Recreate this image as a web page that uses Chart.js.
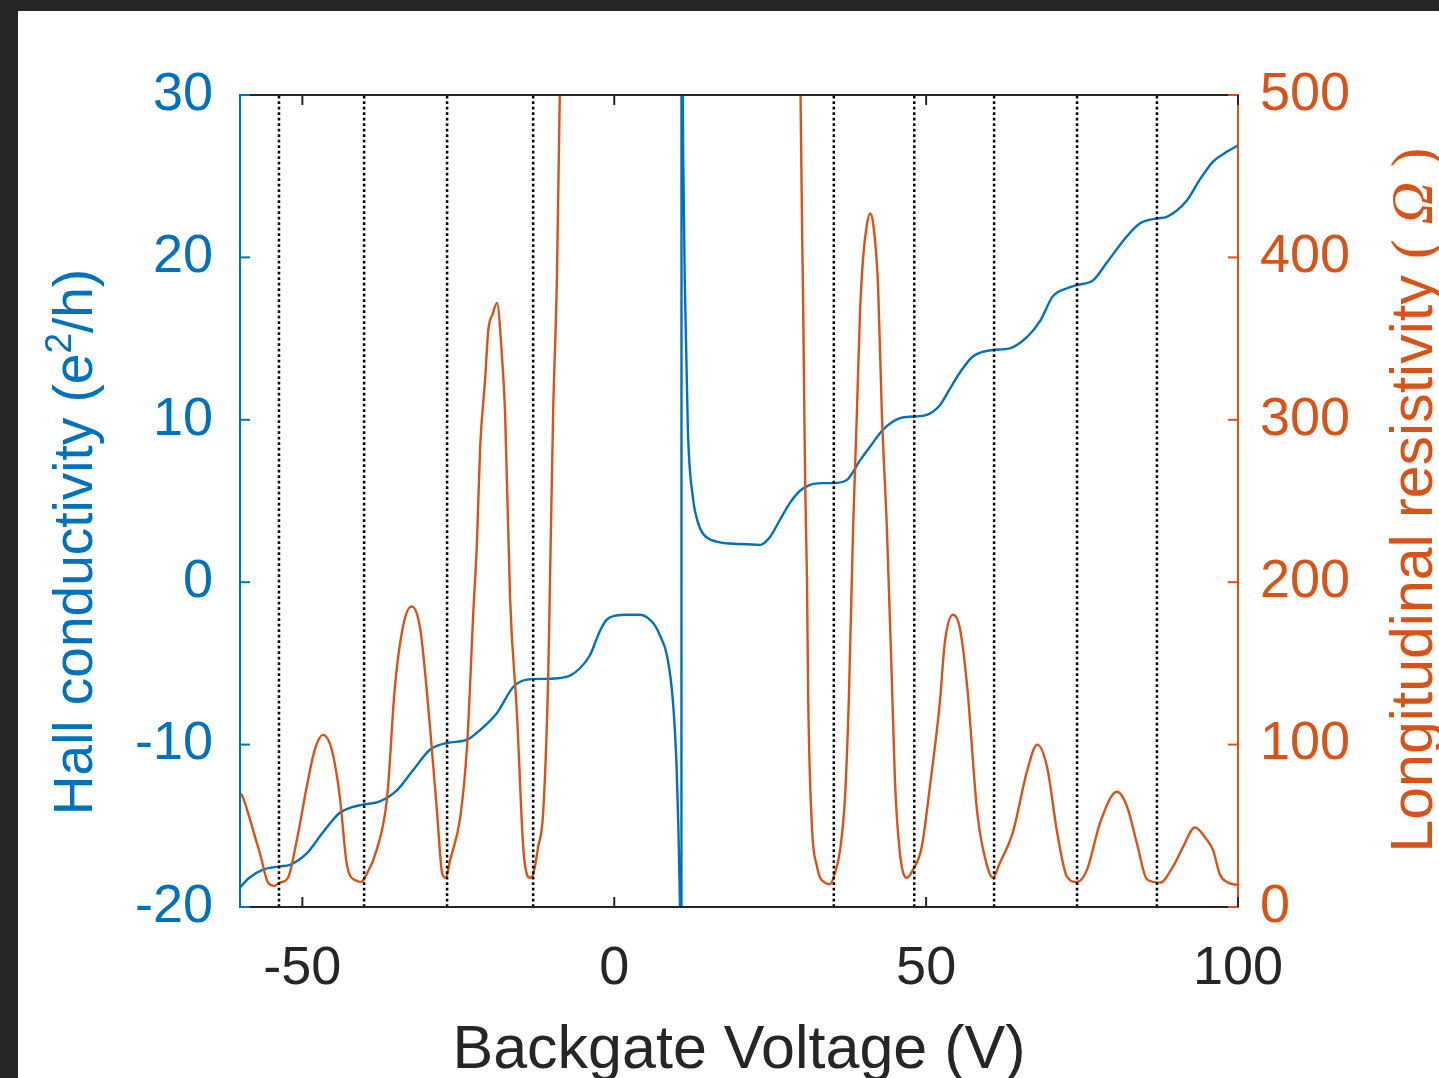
<!DOCTYPE html>
<html>
<head>
<meta charset="utf-8">
<script src="https://cdn.jsdelivr.net/npm/chart.js@4"></script>
<style>
  html, body { margin: 0; padding: 0; background: #262626; overflow: hidden; }
  #wrap { position: absolute; left: 18px; top: 11px; width: 1421px; height: 1067px; background: #fff; }
</style>
</head>
<body>
<div id="wrap"><canvas id="chart" width="1421" height="1067"></canvas></div>
<script>
// x tick labels and y tick values
const xTickVals = [-50, 0, 50, 100];
const hallTickVals = [-20, -10, 0, 10, 20, 30];
const rhoTickVals = [0, 100, 200, 300, 400, 500];

// backgate voltages of the dotted guide lines (V)
const guideVolts = [-53.75, -40.1, -26.8, -13.0, 35.2, 48.1, 60.9, 74.2, 87.0];

// Hall conductivity (e^2/h) vs backgate voltage (V)
const hallV = [-60, -58.5, -56.3, -53.6, -52, -49.3, -46.7, -44, -42, -40.3, -37.6, -34.8, -32.3, -29.5,
  -26.8, -23.6, -21.5, -18.8, -16.2, -14, -11, -8.7, -7.1, -5.5, -3.9, -2.3, -1.2, 0.3, 2, 4.1, 6.2, 7.3,
  8.5, 9.4, 10.0, 10.3, 10.55, 10.65, 10.75, 10.8, 11.0, 11.1, 11.3, 11.8, 12.6, 13.4, 14.2, 16.4, 20.2,
  23.4, 25, 26.5, 28.2, 29.7, 31.4, 33.3, 35.1, 37.3, 39.4, 41.3, 43.1, 45.8, 47.9, 50.1, 52.2, 53.8,
  55.4, 57.5, 60.7, 63.4, 66.2, 68.3, 70.3, 72.6, 74.2, 76.8, 79, 82.2, 84.3, 87, 88.6, 91.8, 93.9, 96,
  98.2, 100];
const hallS = [-18.8, -18.2, -17.7, -17.5, -17.4, -16.7, -15.4, -14.2, -13.85, -13.7, -13.5, -12.8, -11.6, -10.3,
  -9.9, -9.7, -9.1, -8.05, -6.45, -6.0, -5.95, -5.9, -5.75, -5.3, -4.5, -3.0, -2.3, -2.05, -2.0, -2.0, -2.5, -3.25,
  -4.6, -7.3, -11.4, -15.4, -20.0, -25, -100, 100, 30.5, 25, 18.6, 9.4, 5.25, 3.7, 3.0, 2.5, 2.35,
  2.3, 2.8, 3.8, 4.9, 5.6, 6.0, 6.1, 6.1, 6.3, 7.5, 8.5, 9.4, 10.1, 10.2, 10.3, 10.9, 11.9,
  12.9, 13.9, 14.3, 14.4, 15.1, 16.1, 17.6, 18.1, 18.3, 18.6, 19.7, 21.3, 22.1, 22.4, 22.5, 23.5, 24.8, 25.9,
  26.5, 26.9];

// longitudinal resistivity (Ohm) vs backgate voltage (V)
const rhoV = [-60, -59.7, -58.4, -57.5, -56.8, -55.5, -54.5, -53.6, -52.3, -50.9, -49.3, -48, -46.7, -45.3,
  -44, -42.9, -41.6, -40.5, -40, -38.1, -36.4, -35.2, -33.9, -32.5, -31.1, -29.5, -28.4, -27.6, -27.0,
  -26.3, -24.7, -23.6, -22.6, -22, -21.5, -20.7, -20.2, -19.5, -18.8, -18, -17.5, -16.7, -15.6, -14.6,
  -14, -13.5, -13, -12.2, -11.4, -10.6, -10.3, -9.8, -9.2, -8.5, -7, 0, 10, 20, 28, 29.5, 29.8, 30.3,
  30.6, 30.9, 31.1, 31.7, 32.5, 33, 33.8, 34.6, 35.3, 36.2, 37, 37.6, 38.3, 38.9, 39.4, 39.9, 40.5, 41,
  41.5, 42.3, 42.9, 43.7, 44.5, 45, 45.8, 46.9, 47.9, 49.3, 50.6, 52.2, 53, 54.3, 55.4, 56.6, 58.2, 59.8,
  60.7, 61.8, 63.9, 66.2, 67.8, 69.4, 71, 72.6, 74.2, 75.8, 77.9, 80.6, 82.2, 83.8, 85.4, 87.5, 89.6,
  91.2, 93.1, 94.7, 96, 97.1, 98.4, 100];
const rhoR = [70, 69, 54, 42, 33, 15, 13, 15, 18, 41, 74, 97, 106, 97,
  68, 27, 16.6, 15.5, 18, 35, 68, 134, 172, 185, 171, 109, 58, 21, 18,
  29, 55, 99, 181, 226, 283, 325, 355, 365, 372, 339, 304, 190, 119, 37,
  20, 18, 20, 37, 58, 140, 201, 304, 386, 560, 900, 3000, 3000, 2000, 1200, 700, 520, 366,
  263, 201, 127, 49, 25, 18, 15, 14, 20, 35, 68, 127, 234, 304, 366, 400, 420, 427,
  421, 382, 304, 234, 140, 78, 33, 18, 23, 37, 74, 126, 163, 180, 172, 135, 58, 25,
  18, 27, 46, 84, 100, 86, 46, 18.5, 15.4, 23, 52, 71, 62, 39, 17, 15, 25,
  37, 49, 43, 35, 20, 15, 13.5];

const BLUE = '#0072BD';
const ORANGE = '#D95319';
const DARK = '#262626';
const SANS = '"Liberation Sans", Arial, Helvetica, sans-serif';
const SERIF = '"Liberation Serif", "Times New Roman", serif';

const axesFrame = {
  id: 'axesFrame',
  afterDatasetsDraw(chart) {
    const { ctx, chartArea: a, scales } = chart;
    const seg = (x1, y1, x2, y2) => { ctx.beginPath(); ctx.moveTo(x1, y1); ctx.lineTo(x2, y2); ctx.stroke(); };
    ctx.save();
    ctx.lineWidth = 2;
    ctx.strokeStyle = DARK;
    seg(a.left, a.top, a.right, a.top);
    seg(a.left, a.bottom, a.right, a.bottom);
    ctx.strokeStyle = BLUE;
    seg(a.left, a.top - 1, a.left, a.bottom + 1);
    hallTickVals.forEach(v => { const p = scales.y.getPixelForValue(v); seg(a.left, p, a.left + 10, p); });
    ctx.strokeStyle = ORANGE;
    seg(a.right, a.top - 1, a.right, a.bottom + 1);
    rhoTickVals.forEach(v => { const p = scales.y1.getPixelForValue(v); seg(a.right, p, a.right - 10, p); });
    ctx.strokeStyle = DARK;
    xTickVals.forEach(v => {
      const p = scales.x.getPixelForValue(v);
      seg(p, a.top, p, a.top + 10);
      seg(p, a.bottom, p, a.bottom - 10);
    });
    ctx.restore();
  },
  afterDraw(chart) {
    const { ctx, chartArea: a } = chart;
    ctx.save();
    ctx.textBaseline = 'alphabetic';
    ctx.textAlign = 'left';
    // x title
    ctx.font = '61px ' + SANS;
    ctx.fillStyle = DARK;
    const xt = 'Backgate Voltage (V)';
    ctx.fillText(xt, (a.left + a.right) / 2 - ctx.measureText(xt).width / 2, 1057);
    // rotated y titles
    const rotated = (x, y, parts) => {
      ctx.save();
      ctx.translate(x, y);
      ctx.rotate(-Math.PI / 2);
      let total = 0;
      parts.forEach(p => { ctx.font = p.font; p.w = ctx.measureText(p.text).width; total += p.w; });
      let cx = -total / 2;
      parts.forEach(p => {
        ctx.font = p.font; ctx.fillStyle = p.color;
        ctx.fillText(p.text, cx, p.dy || 0);
        cx += p.w;
      });
      ctx.restore();
    };
    rotated(74, 531, [
      { text: 'Hall conductivity (e', font: '55px ' + SANS, color: BLUE },
      { text: '2', font: '37px ' + SANS, color: BLUE, dy: -21 },
      { text: '/h)', font: '55px ' + SANS, color: BLUE }
    ]);
    rotated(1414, 489, [
      { text: 'Longitudinal resistivity ', font: '59px ' + SANS, color: ORANGE },
      { text: '(', font: '59px ' + SERIF, color: ORANGE },
      { text: ' Ω ', font: 'italic 59px ' + SERIF, color: ORANGE },
      { text: ')', font: '59px ' + SERIF, color: ORANGE }
    ]);
    ctx.restore();
  }
};

const tickFont = { family: SANS, size: 54 };

const guideSets = guideVolts.map(v => ({
  data: [{ x: v, y: -20 }, { x: v, y: 30 }],
  yAxisID: 'y',
  borderColor: '#000',
  borderWidth: 2.5,
  borderDash: [2.7, 2.8],
  pointRadius: 0
}));

new Chart(document.getElementById('chart'), {
  type: 'line',
  data: {
    datasets: [
      ...guideSets,
      {
        label: 'Longitudinal resistivity',
        data: rhoV.map((v, i) => ({ x: v, y: rhoR[i] })),
        yAxisID: 'y1',
        borderColor: ORANGE,
        borderWidth: 2.4,
        pointRadius: 0,
        cubicInterpolationMode: 'monotone'
      },
      {
        label: 'Hall conductivity',
        data: hallV.map((v, i) => ({ x: v, y: hallS[i] })),
        yAxisID: 'y',
        borderColor: BLUE,
        borderWidth: 2.4,
        pointRadius: 0,
        cubicInterpolationMode: 'monotone'
      }
    ]
  },
  options: {
    responsive: false,
    animation: false,
    devicePixelRatio: 1,
    layout: { padding: { top: 84, left: 0, right: 0, bottom: 0 } },
    plugins: { legend: { display: false }, tooltip: { enabled: false } },
    scales: {
      x: {
        type: 'linear', min: -60, max: 100,
        afterBuildTicks: s => { s.ticks = xTickVals.map(v => ({ value: v })); },
        afterFit: s => { s.height = 171; },
        grid: { display: false, drawTicks: false },
        border: { display: false },
        ticks: { color: DARK, font: tickFont, padding: 30, maxRotation: 0, autoSkip: false, callback: v => String(v) }
      },
      y: {
        type: 'linear', position: 'left', min: -20, max: 30,
        afterBuildTicks: s => { s.ticks = hallTickVals.map(v => ({ value: v })); },
        afterFit: s => { s.width = 222; },
        grid: { display: false, drawTicks: false },
        border: { display: false },
        ticks: { color: BLUE, font: tickFont, padding: 27, callback: v => String(v) }
      },
      y1: {
        type: 'linear', position: 'right', min: 0, max: 500,
        afterBuildTicks: s => { s.ticks = rhoTickVals.map(v => ({ value: v })); },
        afterFit: s => { s.width = 201; },
        grid: { display: false, drawTicks: false },
        border: { display: false },
        ticks: { color: ORANGE, font: tickFont, padding: 22, callback: v => String(v) }
      }
    }
  },
  plugins: [axesFrame]
});
</script>
</body>
</html>
